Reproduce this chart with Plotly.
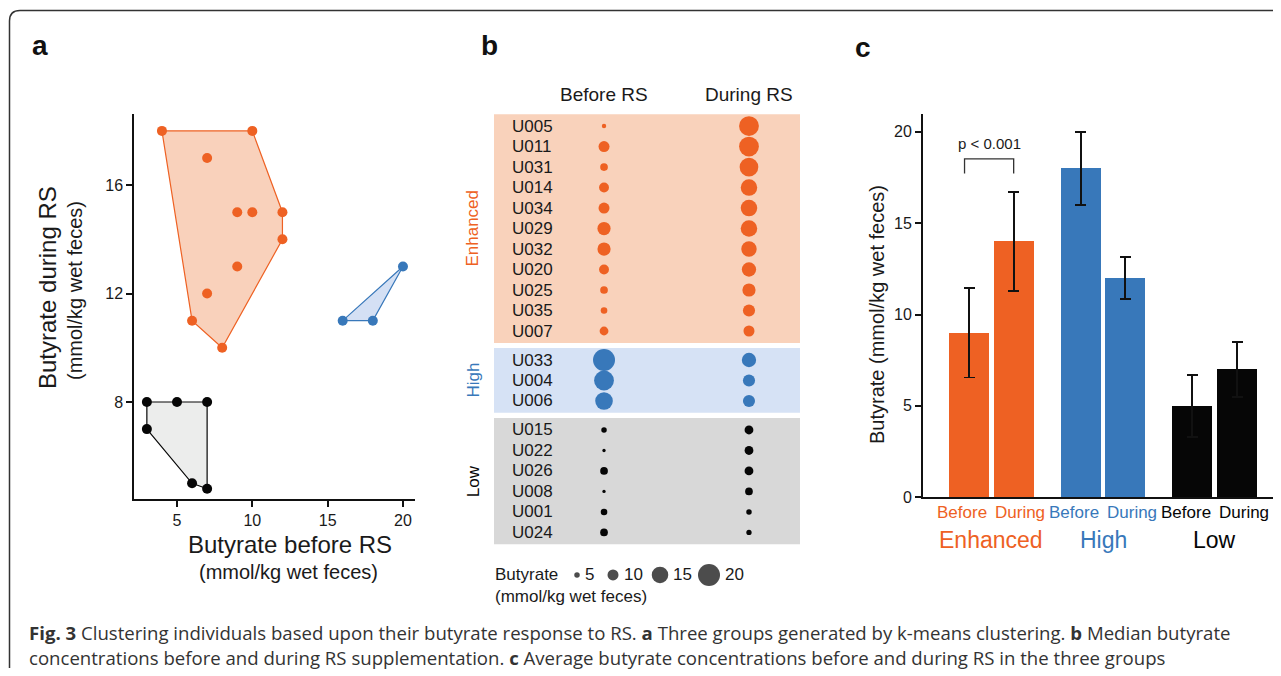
import plotly.graph_objects as go

# The page is photographed from a 1281x685 viewport and squeezed to 1281x676, so the
# figure is laid out in page pixels = reference pixels * SY vertically.
# The html body keeps its default 8px margin.
REF_W, REF_H = 1281, 676
VIEW_H = 685
SY = VIEW_H / REF_H
OX, OY = 8, 8
W, H = REF_W - 2 * OX, VIEW_H - 2 * OY

# ---------------- data ----------------
subjects = ["U005", "U011", "U031", "U014", "U034", "U029", "U032", "U020", "U025", "U035", "U007",
            "U033", "U004", "U006",
            "U015", "U022", "U026", "U008", "U001", "U024"]
groups = ["Enhanced"] * 11 + ["High"] * 3 + ["Low"] * 6
before = [4, 10, 7, 9, 10, 12, 12, 9, 7, 6, 8, 20, 18, 16, 5, 3, 7, 3, 6, 7]
during = [18, 18, 17, 15, 15, 15, 14, 13, 12, 11, 10, 13, 11, 11, 8, 8, 8, 7, 5, 4.8]

group_names = ["Enhanced", "High", "Low"]
bar_before = [9, 18, 5]
bar_during = [14, 12, 7]
err_before = [2.45, 2.0, 1.7]
err_during = [2.7, 1.15, 1.5]
phase_labels = ["Before", "During"]

legend_values = [5, 10, 15, 20]
x_ticks_a = [5, 10, 15, 20]
y_ticks_a = [8, 12, 16]
y_ticks_c = [0, 5, 10, 15, 20]

# ---------------- styles ----------------
COL = {"Enhanced": "#EE6123", "High": "#3878BA", "Low": "#060606"}
HULL_FILL = {"Enhanced": "#F9D1BB", "High": "#D4E0F4", "Low": "#ECEDEC"}
BAND = {"Enhanced": "#F9D2BB", "High": "#D6E2F5", "Low": "#D8D8D8"}
FONT = "Liberation Sans, Arial, Helvetica, sans-serif"
TXT = "#1a1a1a"
SIZE_K = 1.1  # px of diameter per mmol/kg


def px(x):
    """reference pixel x -> paper fraction"""
    return min(1.0, max(0.0, (x - OX) / W))


def py(y):
    """reference pixel y -> paper fraction"""
    return min(1.0, max(0.0, 1 - (y * SY - OY) / H))


def hull(points):
    pts = sorted(set(points))
    if len(pts) <= 2:
        return pts

    def cross(o, a, b):
        return (a[0] - o[0]) * (b[1] - o[1]) - (a[1] - o[1]) * (b[0] - o[0])

    lower, upper = [], []
    for p in pts:
        while len(lower) >= 2 and cross(lower[-2], lower[-1], p) <= 0:
            lower.pop()
        lower.append(p)
    for p in reversed(pts):
        while len(upper) >= 2 and cross(upper[-2], upper[-1], p) <= 0:
            upper.pop()
        upper.append(p)
    return lower[:-1] + upper[:-1]


fig = go.Figure()

# ---------------- panel a ----------------
for g in group_names:
    gx = [b for b, gg in zip(before, groups) if gg == g]
    gy = [d for d, gg in zip(during, groups) if gg == g]
    h = hull(list(zip(gx, gy)))
    h.append(h[0])
    fig.add_trace(go.Scatter(x=[p[0] for p in h], y=[p[1] for p in h], mode="lines",
                             fill="toself", fillcolor=HULL_FILL[g],
                             line=dict(color=COL[g], width=1.2),
                             xaxis="x", yaxis="y", hoverinfo="skip"))
    fig.add_trace(go.Scatter(x=gx, y=gy, mode="markers",
                             marker=dict(color=COL[g], size=10, line=dict(width=0)),
                             xaxis="x", yaxis="y"))

# ---------------- panel b ----------------
gidx = {g: i for i, g in enumerate(group_names)}
ypos = [i + gidx[g] * 0.415 for i, g in enumerate(groups)]
cols = [COL[g] for g in groups]
fig.add_trace(go.Scatter(x=[1] * len(subjects), y=ypos, mode="markers",
                         marker=dict(color=cols, size=[v * SIZE_K for v in before],
                                     sizemode="diameter", line=dict(width=0), opacity=1),
                         xaxis="x2", yaxis="y2", text=subjects))
fig.add_trace(go.Scatter(x=[2] * len(subjects), y=ypos, mode="markers",
                         marker=dict(color=cols, size=[v * SIZE_K for v in during],
                                     sizemode="diameter", line=dict(width=0), opacity=1),
                         xaxis="x2", yaxis="y2", text=subjects))

# ---------------- panel c ----------------
pos_b = [k * 2.5 for k in range(3)]
pos_d = [k * 2.5 + 1 for k in range(3)]
fig.add_trace(go.Bar(x=pos_b, y=bar_before, width=0.895,
                     marker=dict(color=[COL[g] for g in group_names], line=dict(width=0)),
                     error_y=dict(type="data", array=err_before, color="#111", thickness=1.8, width=5.5),
                     xaxis="x3", yaxis="y3"))
fig.add_trace(go.Bar(x=pos_d, y=bar_during, width=0.895,
                     marker=dict(color=[COL[g] for g in group_names], line=dict(width=0)),
                     error_y=dict(type="data", array=err_during, color="#111", thickness=1.8, width=5.5),
                     xaxis="x3", yaxis="y3"))

# legend dots for panel b (overlay axis in reference pixels)
leg_x = [577, 613, 660, 709]
fig.add_trace(go.Scatter(x=leg_x, y=[575] * 4, mode="markers",
                         marker=dict(color="#000", size=[v * SIZE_K for v in legend_values],
                                     sizemode="diameter", line=dict(width=0)),
                         xaxis="x4", yaxis="y4", hoverinfo="skip"))

ann = []
shapes = []

# panel letters
for t, x, y in [("a", 30, 45), ("b", 479, 45), ("c", 853, 47)]:
    ann.append(dict(text="<b>%s</b>" % t, x=px(x), y=py(y), xref="paper", yref="paper",
                    xanchor="left", yanchor="middle", showarrow=False,
                    font=dict(size=28, color="#111", family=FONT)))

# panel a titles
ann += [
    dict(text="Butyrate during RS", x=px(47), y=py(288), textangle=-90,
         font=dict(size=24, color=TXT, family=FONT)),
    dict(text="(mmol/kg wet feces)", x=px(75), y=py(291), textangle=-90,
         font=dict(size=20, color=TXT, family=FONT)),
    dict(text="Butyrate before RS", x=px(290), y=py(545),
         font=dict(size=24, color=TXT, family=FONT)),
    dict(text="(mmol/kg wet feces)", x=px(288), y=py(572),
         font=dict(size=20, color=TXT, family=FONT)),
]

# panel b texts
for s, yv in zip(subjects, ypos):
    ann.append(dict(text=s, x=px(510), y=yv, xref="paper", yref="y2", xanchor="left",
                    yanchor="middle", showarrow=False, font=dict(size=17, color=TXT, family=FONT)))
for i, lab in enumerate(["Before RS", "During RS"]):
    ann.append(dict(text=lab, x=i + 1, y=py(94), xref="x2", yref="paper", showarrow=False,
                    font=dict(size=19, color=TXT, family=FONT)))
for g in group_names:
    ys = [yv for yv, gg in zip(ypos, groups) if gg == g]
    ann.append(dict(text=g, x=px(473), y=(min(ys) + max(ys)) / 2, xref="paper", yref="y2",
                    textangle=-90, showarrow=False, font=dict(size=17, color=COL[g], family=FONT)))
    shapes.append(dict(type="rect", xref="x2 domain", yref="y2", x0=0, x1=1,
                       y0=min(ys) - 0.58, y1=max(ys) + 0.58, fillcolor=BAND[g],
                       line=dict(width=0), layer="below"))
ann.append(dict(text="Butyrate", x=px(493), y=py(575), xanchor="left",
                font=dict(size=17, color=TXT, family=FONT)))
ann.append(dict(text="(mmol/kg wet feces)", x=px(493), y=py(597), xanchor="left",
                font=dict(size=17, color=TXT, family=FONT)))
for v, xc in zip(legend_values, leg_x):
    ann.append(dict(text=str(v), x=px(xc + v * SIZE_K / 2 + 3), y=py(575), xanchor="left",
                    font=dict(size=17, color=TXT, family=FONT)))

# panel c texts
for k, g in enumerate(group_names):
    gc = (pos_b[k] + pos_d[k]) / 2
    ann.append(dict(text=phase_labels[0], x=gc, y=py(513), xref="x3", yref="paper",
                    xanchor="right", xshift=-2, showarrow=False,
                    font=dict(size=17, color=COL[g], family=FONT)))
    ann.append(dict(text=phase_labels[1], x=gc, y=py(513), xref="x3", yref="paper",
                    xanchor="left", xshift=2, showarrow=False,
                    font=dict(size=17, color=COL[g], family=FONT)))
    ann.append(dict(text=g, x=gc, y=py(540), xref="x3", yref="paper",
                    showarrow=False, font=dict(size=23, color=COL[g], family=FONT)))
ann.append(dict(text="Butyrate (mmol/kg wet feces)", x=px(877), y=py(315), textangle=-90,
                font=dict(size=20, color=TXT, family=FONT)))
ann.append(dict(text="p < 0.001", x=(pos_b[0] + pos_d[0]) / 2 - 0.05, y=py(143), xref="x3",
                yref="paper", showarrow=False, font=dict(size=15, color=TXT, family=FONT)))
bx0, bx1 = pos_b[0] - 0.1, pos_d[0]
shapes.append(dict(type="path", xref="x3", yref="y3",
                   path="M %f,17.72 L %f,18.52 L %f,18.52 L %f,17.72" % (bx0, bx0, bx1, bx1),
                   line=dict(color="#333", width=1.3)))

# caption
CAP = "Open Sans, Noto Sans, sans-serif"
ann.append(dict(text="<b>Fig. 3</b> Clustering individuals based upon their butyrate response to RS. "
                     "<b>a</b> Three groups generated by k-means clustering. <b>b</b> Median butyrate",
                x=px(27), y=py(633), xanchor="left", font=dict(size=18.6, color="#333", family=CAP)))
ann.append(dict(text="concentrations before and during RS supplementation. <b>c</b> Average butyrate "
                     "concentrations before and during RS in the three groups",
                x=px(27), y=py(658), xanchor="left", font=dict(size=18.6, color="#333", family=CAP)))

for a in ann:
    a.setdefault("xref", "paper")
    a.setdefault("yref", "paper")
    a.setdefault("showarrow", False)
    a.setdefault("xanchor", "center")
    a.setdefault("yanchor", "middle")

# outer frame (reference pixel coordinates via overlay axis)
shapes.append(dict(type="path", xref="x4", yref="y4",
                   path="M 9.5,700 L 9.5,21 Q 9.5,10.5 20,10.5 L 1300,10.5",
                   line=dict(color="#333", width=1.5)))

axis_common = dict(showgrid=False, zeroline=False, showline=True, linecolor="#111", linewidth=1.5,
                   ticks="outside", ticklen=6, tickwidth=1.5, tickcolor="#111",
                   tickfont=dict(size=16, color=TXT, family=FONT))

# panel c x-axis: 44.67 px per bar step, left edge at x=923 is -1.03
C_LEFT, C_RIGHT = 923, min(1275, OX + W)
C_UNIT = 44.67
c_range = [-1.03, -1.03 + (C_RIGHT - C_LEFT) / C_UNIT]

fig.update_layout(
    width=W, height=H, margin=dict(l=0, r=0, t=0, b=0, pad=0),
    paper_bgcolor="white", plot_bgcolor="rgba(0,0,0,0)", showlegend=False,
    font=dict(family=FONT, color=TXT),
    xaxis=dict(domain=[px(134), px(415)], range=[2.146, 20.8], tickvals=x_ticks_a,
               anchor="y", **axis_common),
    yaxis=dict(domain=[py(499), py(114)], range=[4.424, 18.62], tickvals=y_ticks_a,
               anchor="x", **axis_common),
    xaxis2=dict(domain=[px(494), px(800)], range=[0.241, 2.352], visible=False, anchor="y2"),
    yaxis2=dict(domain=[py(552), py(110)], range=[(552 - 126) / 20.5, (110 - 126) / 20.5],
                visible=False, anchor="x2"),
    xaxis3=dict(domain=[px(C_LEFT), px(C_RIGHT)], range=c_range, anchor="y3",
                showgrid=False, zeroline=False, showline=True, linecolor="#111", linewidth=1.8,
                ticks="", showticklabels=False),
    yaxis3=dict(domain=[py(497.3), py(114)], range=[0, 20.97], tickvals=y_ticks_c, anchor="x3",
                **{**axis_common, "linewidth": 1.8}),
    xaxis4=dict(domain=[0, 1], range=[OX, OX + W], visible=False, anchor="y4", fixedrange=True),
    yaxis4=dict(domain=[0, 1], range=[(OY + H) / SY, OY / SY], visible=False, anchor="x4",
                fixedrange=True),
    annotations=ann, shapes=shapes, bargap=0,
)

fig.write_html("out.html", config={"displayModeBar": False})
